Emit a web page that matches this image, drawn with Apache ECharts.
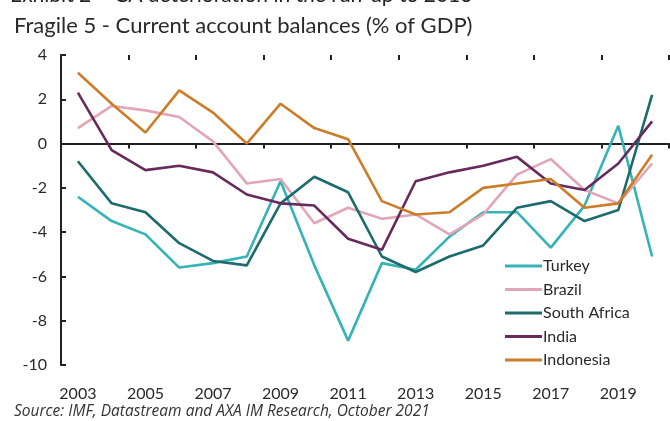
<!DOCTYPE html>
<html>
<head>
<meta charset="utf-8">
<script src="https://cdn.jsdelivr.net/npm/echarts@6/dist/echarts.min.js"></script>
<style>
  html, body { margin: 0; padding: 0; background: #fff; }
  #chart { width: 670px; height: 421px; }
</style>
</head>
<body>
<div id="chart"></div>
<script>
// Current account balances, % of GDP
const years = ['2003','2004','2005','2006','2007','2008','2009','2010','2011','2012',
               '2013','2014','2015','2016','2017','2018','2019','2020'];
const turkey      = [-2.4,-3.5,-4.1,-5.6,-5.4,-5.1,-1.7,-5.5,-8.9,-5.4,-5.7,-4.2,-3.1,-3.1,-4.7,-2.8, 0.8,-5.1];
const brazil      = [ 0.7, 1.7, 1.5, 1.2, 0.1,-1.8,-1.6,-3.6,-2.9,-3.4,-3.2,-4.1,-3.2,-1.4,-0.7,-2.1,-2.7,-0.9];
const southAfrica = [-0.8,-2.7,-3.1,-4.5,-5.3,-5.5,-2.7,-1.5,-2.2,-5.1,-5.8,-5.1,-4.6,-2.9,-2.6,-3.5,-3.0, 2.2];
const india       = [ 2.3,-0.3,-1.2,-1.0,-1.3,-2.3,-2.7,-2.8,-4.3,-4.8,-1.7,-1.3,-1.0,-0.6,-1.8,-2.1,-0.9, 1.0];
const indonesia   = [ 3.2, 1.8, 0.5, 2.4, 1.4, 0.0, 1.8, 0.7, 0.2,-2.6,-3.2,-3.1,-2.0,-1.8,-1.6,-2.9,-2.7,-0.5];

const seriesNames  = ['Turkey','Brazil','South Africa','India','Indonesia'];
const seriesValues = [turkey, brazil, southAfrica, india, indonesia];
const seriesColors = ['#35b3b6','#e2a6b6','#1d6b6c','#672a5c','#cc7d28'];

const FONT = 'Lato, "Open Sans", sans-serif';
const chart = echarts.init(document.getElementById('chart'), null, { renderer: 'canvas' });

chart.setOption({
  backgroundColor: '#ffffff',
  animation: false,
  textStyle: { fontFamily: FONT },
  graphic: [
    { type: 'text', left: 10, top: -15,
      style: { text: 'Exhibit 2 \u2013 CA deterioration in the run-up to 2013',
               font: '21px ' + FONT, fill: '#222' } },
    { type: 'text', left: 14, top: 15,
      style: { text: 'Fragile 5 - Current account balances (% of GDP)',
               font: '22px ' + FONT, fill: '#2a2a2a' } },
    { type: 'text', left: 14, top: 404,
      style: { text: 'Source: IMF, Datastream and AXA IM Research, October 2021',
               font: 'italic 15.5px "Open Sans", sans-serif', fill: '#333' } }
  ],
  grid: { left: 61, right: 1, top: 55, bottom: 56, containLabel: false },
  legend: {
    orient: 'vertical', left: 500, top: 252,
    data: seriesNames,
    icon: 'rect', itemWidth: 37, itemHeight: 3, itemGap: 5.5,
    textStyle: { fontSize: 16, color: '#2a2a2a', lineHeight: 18, fontFamily: FONT, padding: [0,0,0,-4] }
  },
  xAxis: [
    {
      // zero line with ticks hanging below
      type: 'category', data: years, boundaryGap: true,
      axisLine: { onZero: true, lineStyle: { color: '#222', width: 2 } },
      axisTick: { show: true, length: 5, lineStyle: { color: '#222', width: 2 } },
      axisLabel: { show: false },
      splitLine: { show: false }
    },
    {
      // year labels along the bottom edge
      type: 'category', data: years, boundaryGap: true, position: 'bottom',
      axisLine: { show: false, onZero: false },
      axisTick: { show: false },
      axisLabel: { interval: 1, margin: 21, fontSize: 16, color: '#2a2a2a', fontFamily: FONT },
      splitLine: { show: false }
    },
    {
      // upper half of the crossing ticks on the zero line
      type: 'category', data: years, boundaryGap: true,
      axisLine: { show: false, onZero: true },
      axisTick: { show: true, inside: true, length: 5, lineStyle: { color: '#222', width: 2 } },
      axisLabel: { show: false },
      splitLine: { show: false }
    }
  ],
  yAxis: {
    type: 'value', min: -10, max: 4, interval: 2,
    axisLine: { show: true, lineStyle: { color: '#222', width: 2 } },
    axisTick: { show: true, inside: true, length: 5, lineStyle: { color: '#222', width: 2 } },
    axisLabel: { fontSize: 16, color: '#2a2a2a', margin: 14, fontFamily: FONT },
    splitLine: { show: false }
  },
  series: seriesNames.map((name, i) => ({
    name, type: 'line', data: seriesValues[i], xAxisIndex: 0,
    symbol: 'none', smooth: false,
    lineStyle: { width: 2.6, color: seriesColors[i] },
    itemStyle: { color: seriesColors[i] }
  }))
});
</script>
</body>
</html>
